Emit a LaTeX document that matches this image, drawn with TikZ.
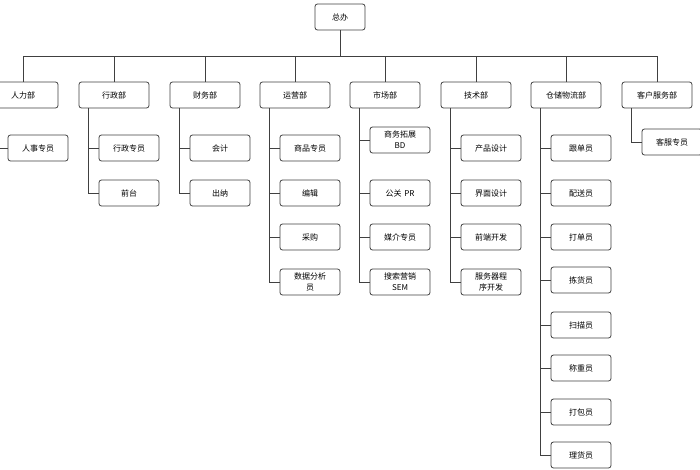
\documentclass[tikz,border=0pt]{standalone}
\usepackage{fontspec}
\setmainfont{Noto Sans CJK SC}
\usetikzlibrary{positioning}

\tikzset{
  box/.style={draw=black!75, line width=0.8pt, rounded corners=2.5pt, fill=white,
    minimum height=26pt, align=center, inner sep=1pt, font=\fontsize{8}{11}\selectfont},
  dept/.style={box, minimum width=70pt},
  staff/.style={box, minimum width=60pt, text width=52pt},
  link/.style={draw=black!75, line width=0.8pt}
}

\begin{document}
\begin{tikzpicture}[x=1pt,y=-1pt]
  \useasboundingbox (0,0) rectangle (700,470);
  \node[box, minimum width=50pt] (root) at (340,17) {总办};
  \coordinate (bus) at (340,56);
  % departments
  \foreach \name/\x/\t in {hr/23/人力部, adm/114/行政部, fin/205/财务部, ops/295/运营部,
      mkt/385/市场部, tech/476/技术部, wh/566/仓储物流部, cs/657/客户服务部} {
    \node[dept] (\name) at (\x,95) {\t};
    \draw[link] (root.south) |- (\name.north |- bus) -- (\name.north);
  }
  % staff
  \foreach \d/\n/\y/\t in {hr/1/148/人事专员, adm/1/148/行政专员, adm/2/193/前台,
      fin/1/148/会计, fin/2/193/出纳,
      ops/1/148/商品专员, ops/2/193/编辑, ops/3/237/采购, ops/4/282/数据分析\\员,
      mkt/1/140/商务拓展\\BD, mkt/2/193/公关 PR, mkt/3/237/媒介专员, mkt/4/282/搜索营销\\SEM,
      tech/1/148/产品设计, tech/2/193/界面设计, tech/3/237/前端开发, tech/4/282/服务器程\\序开发,
      wh/1/148/跟单员, wh/2/193/配送员, wh/3/237/打单员, wh/4/280/拣货员,
      wh/5/325/扫描员, wh/6/368/称重员, wh/7/412/打包员, wh/8/455/理货员,
      cs/1/142/客服专员} {
    \path ([xshift=20pt]\d.south west) coordinate (t\d);
    \node[staff, anchor=west] (\d\n) at (t\d |- 0,\y) {\t};
    \draw[link] ([xshift=10pt]\d.south west) |- (\d\n.west);
  }
\end{tikzpicture}
\end{document}
